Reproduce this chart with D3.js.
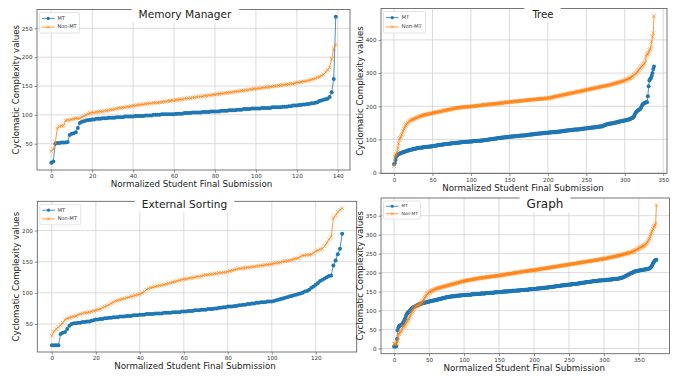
<!DOCTYPE html>
<html>
<head>
<meta charset="utf-8">
<script src="https://cdn.jsdelivr.net/npm/d3@7"></script>
<style>
  body { margin: 0; background: #fff; }
  svg { display: block; }
  text { font-family: "DejaVu Sans", sans-serif; }
</style>
</head>
<body>
<svg id="chart"></svg>
<script>
// values, index = normalized submission
const seriesNames = ["MT", "Non-MT"]
const seriesColors = ["#1f77b4", "#ff7f0e"]

const memoryMT = [
  17,19,50,51,51,52,52,52,53,65, 67,68,70,77,86,88,89,90,91,91,
  92,92,93,93,93,94,94,94,95,95, 95,95,96,96,96,96,97,97,97,97,
  97,98,98,98,98,98,99,99,99,99, 100,100,100,100,101,101,101,101,101,101,
  101,102,102,102,102,103,103,103,103,104, 104,104,104,104,105,105,105,105,106,106,
  106,106,106,107,107,107,107,108,108,108, 108,109,109,109,110,110,110,110,111,111,
  111,111,111,112,112,112,112,112,113,113, 113,113,113,114,114,114,115,115,116,116,
  116,117,117,118,118,119,119,120,120,121, 122,124,125,126,127,128,131,139,162,270
]
const memoryNonMT = [
  37,40,52,77,80,81,81,90,91,91, 92,93,94,94,94,96,98,100,102,103,
  104,104,105,105,106,106,107,107,108,109, 109,110,111,112,112,113,113,114,114,115,
  116,116,117,117,118,118,119,119,120,120, 121,121,121,122,122,123,123,124,124,125,
  125,126,126,127,127,128,128,129,129,130, 130,131,131,132,132,133,133,134,134,135,
  135,136,136,137,137,138,138,139,139,140, 140,141,141,142,142,143,143,144,144,145,
  145,146,146,147,147,148,148,149,149,150, 150,151,151,152,152,153,153,154,154,155,
  156,156,157,158,158,159,160,161,162,163, 165,166,168,170,174,178,182,197,215,222
]

const treeMT = [
  25,28,38,48,52,54,56,57,58,59, 60,61,62,63,63,64,65,66,67,67,
  68,69,69,70,70,71,71,72,72,73, 74,74,74,75,75,75,76,76,76,77,
  77,77,78,78,78,78,79,79,79,79, 80,80,81,81,81,82,82,83,83,83,
  84,84,84,85,85,85,86,86,86,86, 87,87,87,88,88,88,89,89,89,89,
  90,90,90,90,91,91,91,91,92,92, 92,92,92,93,93,93,93,93,94,94,
  94,94,94,95,95,95,95,95,96,96, 96,96,96,97,97,97,97,98,98,98,
  98,99,99,100,100,100,101,101,101,102, 102,102,103,103,103,104,104,104,105,105,
  105,106,106,106,107,107,107,107,108,108, 108,108,109,109,109,109,110,110,110,110,
  110,111,111,111,111,112,112,112,112,112, 112,113,113,113,114,114,114,115,115,115,
  115,116,116,116,117,117,117,117,118,118, 118,118,119,119,119,119,120,120,120,120,
  120,121,121,121,121,122,122,122,122,122, 122,123,123,123,123,124,124,124,125,125,
  125,126,126,126,127,127,127,128,128,128, 128,129,129,129,129,130,130,130,130,130,
  130,131,131,131,132,132,132,133,133,133, 133,134,134,134,135,135,135,136,136,136,
  136,137,137,137,138,138,138,139,139,139, 139,140,141,142,143,144,145,146,146,147,
  147,148,148,148,149,149,150,150,151,151, 152,153,153,154,154,155,155,156,156,157,
  157,158,158,159,159,160,161,162,163,164, 165,167,170,175,180,183,185,187,189,190,
  192,195,200,205,207,209,210,211,212,212, 230,260,278,282,285,292,300,312,320
]
const treeNonMT = [
  20,48,52,55,62,75,88,100,104,108, 114,120,126,132,137,142,146,148,150,152,
  155,157,158,159,160,161,162,163,164,165, 166,167,168,169,170,171,171,172,173,174,
  174,175,175,176,176,177,177,178,178,179, 179,180,180,181,181,182,182,183,183,184,
  184,185,185,186,186,187,187,188,188,189, 189,190,190,191,191,192,192,193,193,194,
  194,195,195,195,196,196,196,197,197,197, 197,198,198,198,198,199,199,199,199,199,
  199,200,200,200,200,201,201,201,201,202, 202,202,203,203,203,204,204,204,205,205,
  205,205,205,206,206,206,206,207,207,207, 207,207,208,208,208,208,209,209,209,210,
  210,210,211,211,211,211,212,212,212,212, 213,213,213,214,214,214,214,215,215,215,
  215,215,216,216,216,216,217,217,217,217, 218,218,218,218,219,219,219,219,220,220,
  220,220,220,221,221,221,221,222,222,222, 222,222,223,223,223,223,223,224,224,224,
  224,225,225,226,226,227,227,228,228,229, 229,230,230,231,231,232,232,233,233,234,
  234,235,235,236,236,237,237,238,238,239, 239,240,240,241,241,242,242,243,243,244,
  244,245,245,246,246,247,247,248,248,249, 249,250,250,251,251,252,252,253,253,254,
  254,255,255,256,256,257,257,258,258,259, 259,260,260,261,261,262,262,263,263,264,
  264,265,265,266,267,267,268,269,269,270, 271,271,272,273,273,274,275,275,276,277,
  278,279,280,281,282,283,284,285,287,288, 290,292,294,296,298,300,303,306,309,312,
  315,318,320,322,325,328,330,340,352,356, 358,362,368,372,380,395,410,420,472
]

const sortingMT = [
  16,16,16,16,34,36,37,42,47,50, 51,51,52,52,53,53,54,54,55,56,
  57,57,58,58,59,59,60,60,61,61, 61,62,62,62,63,63,63,64,64,64,
  65,65,65,66,66,66,66,67,67,67, 67,68,68,68,68,69,69,69,69,70,
  70,70,71,71,71,72,72,72,73,73, 73,74,74,74,75,75,76,76,77,77,
  78,78,78,79,79,80,80,81,81,82, 82,83,83,84,84,85,85,85,86,86,
  86,87,88,89,90,91,92,93,94,95, 96,97,98,99,100,102,103,105,108,110,
  113,116,119,121,123,125,127,128,144,152, 162,171,195
]
const sortingNonMT = [
  31,38,42,45,48,52,57,59,60,61, 62,63,65,66,67,68,68,69,70,71,
  72,73,74,76,78,79,81,83,85,87, 88,89,90,91,92,93,94,95,96,97,
  98,100,102,105,107,108,109,110,111,112, 112,113,114,115,116,117,118,119,120,121,
  122,122,123,124,124,125,126,126,127,128, 129,129,130,130,131,131,132,132,133,133,
  134,135,136,137,138,139,139,140,140,141, 141,142,142,143,143,144,144,145,145,146,
  146,147,148,148,149,150,151,151,152,153, 154,155,156,158,160,160,161,161,162,164,
  167,168,170,171,175,180,186,190,220,224, 230,233,236
]

const graphMT = [
  5,5,5,6,25,48,55,58,60,61, 62,63,65,68,72,75,80,86,90,93,
  95,97,99,101,103,105,106,108,109,110, 111,112,113,114,115,116,116,117,118,118,
  119,119,120,120,121,121,122,122,123,123, 124,124,125,125,125,126,126,127,127,127,
  128,128,129,129,130,130,131,131,132,132, 133,133,134,134,135,135,135,136,136,136,
  137,137,137,137,138,138,138,138,139,139, 139,139,140,140,140,140,140,141,141,141,
  141,141,141,141,142,142,142,142,142,142, 142,143,143,143,143,143,143,144,144,144,
  144,144,144,144,145,145,145,145,145,145, 145,146,146,146,146,146,146,147,147,147,
  147,147,147,147,148,148,148,148,148,148, 148,149,149,149,149,149,150,150,150,150,
  150,150,150,151,151,151,151,151,151,152, 152,152,152,152,152,153,153,153,153,153,
  153,154,154,154,154,154,154,155,155,155, 155,155,155,156,156,156,156,156,156,157,
  157,157,157,157,158,158,158,158,158,159, 159,159,159,160,160,160,160,160,161,161,
  161,161,162,162,162,162,163,163,163,163, 164,164,164,164,165,165,165,165,166,166,
  166,166,167,167,167,167,168,168,168,168, 168,169,169,169,169,170,170,170,170,170,
  171,171,171,171,172,172,172,172,173,173, 173,173,174,174,174,175,175,175,175,176,
  176,176,176,177,177,177,177,178,178,178, 178,178,179,179,179,179,179,180,180,180,
  180,180,180,181,181,181,181,181,182,182, 182,182,182,183,183,183,183,184,184,184,
  184,184,185,185,186,186,187,187,188,189, 190,191,192,193,194,195,196,197,198,199,
  199,200,201,202,203,203,204,204,205,205, 205,206,206,206,207,207,207,208,208,208,
  209,209,209,210,210,211,212,214,216,220, 224,226,230,232,233,234
]
const graphNonMT = [
  12,12,12,13,15,20,30,38,42,44, 45,48,55,57,58,60,63,66,69,72,
  75,79,83,87,91,95,98,101,104,107, 110,111,112,113,114,115,116,117,118,120,
  122,125,128,131,134,137,140,143,145,146, 148,149,150,151,152,153,154,155,156,157,
  158,158,159,159,160,160,161,161,162,162, 163,163,164,164,165,165,166,166,167,167,
  168,168,169,169,170,170,171,171,172,172, 173,173,174,174,175,175,176,176,177,177,
  178,178,179,179,179,180,180,180,181,181, 181,182,182,182,183,183,183,184,184,184,
  185,185,185,186,186,186,186,187,187,187, 187,188,188,188,188,189,189,189,189,190,
  190,190,190,191,191,191,191,192,192,192, 192,192,193,193,193,194,194,194,195,195,
  195,196,196,196,197,197,197,197,198,198, 198,199,199,199,200,200,200,200,201,201,
  201,202,202,202,203,203,203,203,204,204, 204,205,205,205,205,206,206,206,206,206,
  206,207,207,207,208,208,208,209,209,209, 209,210,210,210,211,211,211,212,212,212,
  212,213,213,213,214,214,214,215,215,215, 215,216,216,216,217,217,217,218,218,218,
  218,219,219,219,220,220,220,221,221,221, 221,222,222,222,223,223,223,224,224,224,
  224,225,225,225,226,226,226,227,227,227, 227,228,228,228,229,229,229,230,230,230,
  230,231,231,231,232,232,232,233,233,233, 233,234,234,234,235,235,235,236,236,236,
  236,237,237,238,238,238,239,239,240,240, 240,241,241,242,242,242,243,243,244,244,
  244,245,245,246,246,247,247,248,248,249, 249,250,250,251,251,252,252,253,253,253,
  254,255,256,257,258,259,260,261,262,263, 264,265,266,267,268,269,270,271,272,273,
  275,277,280,283,286,290,295,300,305,310, 315,320,322,325,330,378
]

const xTicksMemory = [0, 20, 40, 60, 80, 100, 120, 140]
const yTicksMemory = [50, 100, 150, 200, 250]
const xTicksTree = [0, 50, 100, 150, 200, 250, 300, 350]
const yTicksTree = [0, 100, 200, 300, 400]
const xTicksSorting = [0, 20, 40, 60, 80, 100, 120]
const yTicksSorting = [50, 100, 150, 200]
const xTicksGraph = [0, 50, 100, 150, 200, 250, 300, 350]
const yTicksGraph = [0, 50, 100, 150, 200, 250, 300, 350]

const width = 675
const height = 377

const svg = d3.select("#chart")
  .attr("width", width)
  .attr("height", height)
  .attr("viewBox", [0, 0, width, height])

// layout of the four axes boxes (pixels)
const panels = [
  { title: "Memory Manager", mt: memoryMT, non: memoryNonMT, xTicks: xTicksMemory, yTicks: yTicksMemory,
    left: 37, right: 350, top: 9.5, bottom: 170, titleX: 185, titleY: 15, titleSize: 10.6, legendW: 40, legendSize: 5 },
  { title: "Tree", mt: treeMT, non: treeNonMT, xTicks: xTicksTree, yTicks: yTicksTree,
    left: 381, right: 667, top: 8.5, bottom: 173.5, titleX: 543, titleY: 15, titleSize: 10.2, legendW: 42, legendSize: 5.3 },
  { title: "External Sorting", mt: sortingMT, non: sortingNonMT, xTicks: xTicksSorting, yTicks: yTicksSorting,
    left: 37.3, right: 356.7, top: 201.3, bottom: 352, titleX: 184.5, titleY: 205, titleSize: 10.6, legendW: 41, legendSize: 5 },
  { title: "Graph", mt: graphMT, non: graphNonMT, xTicks: xTicksGraph, yTicks: yTicksGraph,
    left: 381, right: 669.5, top: 198, bottom: 353.7, titleX: 545, titleY: 204, titleSize: 12, legendW: 37, legendSize: 4.3 }
]

const xMarker = s => `M${-s},${-s}L${s},${s}M${-s},${s}L${s},${-s}`

panels.forEach(p => {
  const n = p.mt.length
  const all = p.mt.concat(p.non)
  const lo = d3.min(all), hi = d3.max(all)
  const padY = (hi - lo) * 0.05
  const padX = (n - 1) * 0.05

  const x = d3.scaleLinear().domain([-padX, n - 1 + padX]).range([p.left, p.right])
  const y = d3.scaleLinear().domain([lo - padY, hi + padY]).range([p.bottom, p.top])

  const g = svg.append("g")

  // grid
  g.append("g").selectAll("line.gx")
    .data(p.xTicks.filter(t => x(t) <= p.right))
    .join("line")
    .attr("x1", d => x(d)).attr("x2", d => x(d))
    .attr("y1", p.top).attr("y2", p.bottom)
    .attr("stroke", "#d2d2d2").attr("stroke-width", 0.8)
  g.append("g").selectAll("line.gy")
    .data(p.yTicks)
    .join("line")
    .attr("x1", p.left).attr("x2", p.right)
    .attr("y1", d => y(d)).attr("y2", d => y(d))
    .attr("stroke", "#d2d2d2").attr("stroke-width", 0.8)

  // axes
  const xAxis = g.append("g")
    .attr("transform", `translate(0,${p.bottom})`)
    .call(d3.axisBottom(x).tickValues(p.xTicks).tickSize(2.5).tickPadding(2))
  const yAxis = g.append("g")
    .attr("transform", `translate(${p.left},0)`)
    .call(d3.axisLeft(y).tickValues(p.yTicks).tickSize(2.5).tickPadding(2))
  ;[xAxis, yAxis].forEach(a => {
    a.select(".domain").remove()
    a.selectAll("line").attr("stroke", "#444").attr("stroke-width", 0.6)
    a.selectAll("text").attr("font-size", 5.6).attr("fill", "#333")
      .attr("font-family", "DejaVu Sans, sans-serif")
  })

  // series
  const line = d3.line().x((d, i) => x(i)).y(d => y(d))
  const sets = [p.mt, p.non]
  sets.forEach((vals, k) => {
    const sg = g.append("g")
    sg.append("path")
      .attr("d", line(vals))
      .attr("fill", "none")
      .attr("stroke", seriesColors[k])
      .attr("stroke-width", 0.8)
    if (k === 0) {
      sg.selectAll("circle").data(vals).join("circle")
        .attr("cx", (d, i) => x(i)).attr("cy", d => y(d))
        .attr("r", 2).attr("fill", seriesColors[k])
    } else {
      sg.selectAll("path.m").data(vals).join("path")
        .attr("class", "m")
        .attr("transform", (d, i) => `translate(${x(i)},${y(d)})`)
        .attr("d", xMarker(1.9))
        .attr("stroke", seriesColors[k]).attr("stroke-width", 0.6).attr("fill", "none")
    }
  })

  // spines
  g.append("rect")
    .attr("x", p.left).attr("y", p.top)
    .attr("width", p.right - p.left).attr("height", p.bottom - p.top)
    .attr("fill", "none").attr("stroke", "#555").attr("stroke-width", 0.8)

  // title with white box
  const tt = g.append("text")
    .attr("x", p.titleX).attr("y", p.titleY)
    .attr("text-anchor", "middle").attr("dominant-baseline", "middle")
    .attr("font-size", p.titleSize).attr("fill", "#222")
    .text(p.title)
  const bb = tt.node().getBBox()
  g.insert("rect", () => tt.node())
    .attr("x", bb.x - 7).attr("y", bb.y - 3)
    .attr("width", bb.width + 14).attr("height", bb.height + 5)
    .attr("fill", "#fff")

  // axis labels
  g.append("text")
    .attr("x", (p.left + p.right) / 2 + (p.left < 100 ? -2 : -1))
    .attr("y", p.bottom + 17)
    .attr("text-anchor", "middle")
    .attr("font-size", 8.7).attr("fill", "#222")
    .text("Normalized Student Final Submission")
  g.append("text")
    .attr("transform", `translate(${p.left - 18},${(p.top + p.bottom) / 2}) rotate(-90)`)
    .attr("text-anchor", "middle")
    .attr("font-size", 8.6).attr("fill", "#222")
    .text("Cyclomatic Complexity values")

  // legend
  const lx = p.left + 2.5, ly = p.top + 3
  const rowH = p.legendSize * 1.75
  const lg = g.append("g")
  lg.append("rect")
    .attr("x", lx).attr("y", ly)
    .attr("width", p.legendW).attr("height", rowH * 2 + 3)
    .attr("rx", 1.5)
    .attr("fill", "#fff").attr("fill-opacity", 0.85)
    .attr("stroke", "#d0d0d0").attr("stroke-width", 0.6)
  seriesNames.forEach((name, k) => {
    const cy = ly + 1.5 + rowH * (k + 0.5)
    lg.append("line")
      .attr("x1", lx + 2.5).attr("x2", lx + 15)
      .attr("y1", cy).attr("y2", cy)
      .attr("stroke", seriesColors[k]).attr("stroke-width", 0.8)
    if (k === 0) {
      lg.append("circle").attr("cx", lx + 8.75).attr("cy", cy).attr("r", 1.6).attr("fill", seriesColors[k])
    } else {
      lg.append("path").attr("transform", `translate(${lx + 8.75},${cy})`)
        .attr("d", xMarker(1.5)).attr("stroke", seriesColors[k]).attr("stroke-width", 0.6)
    }
    lg.append("text")
      .attr("x", lx + 18).attr("y", cy)
      .attr("dominant-baseline", "middle")
      .attr("font-size", p.legendSize).attr("fill", "#333")
      .text(name)
  })
})
</script>
</body>
</html>
